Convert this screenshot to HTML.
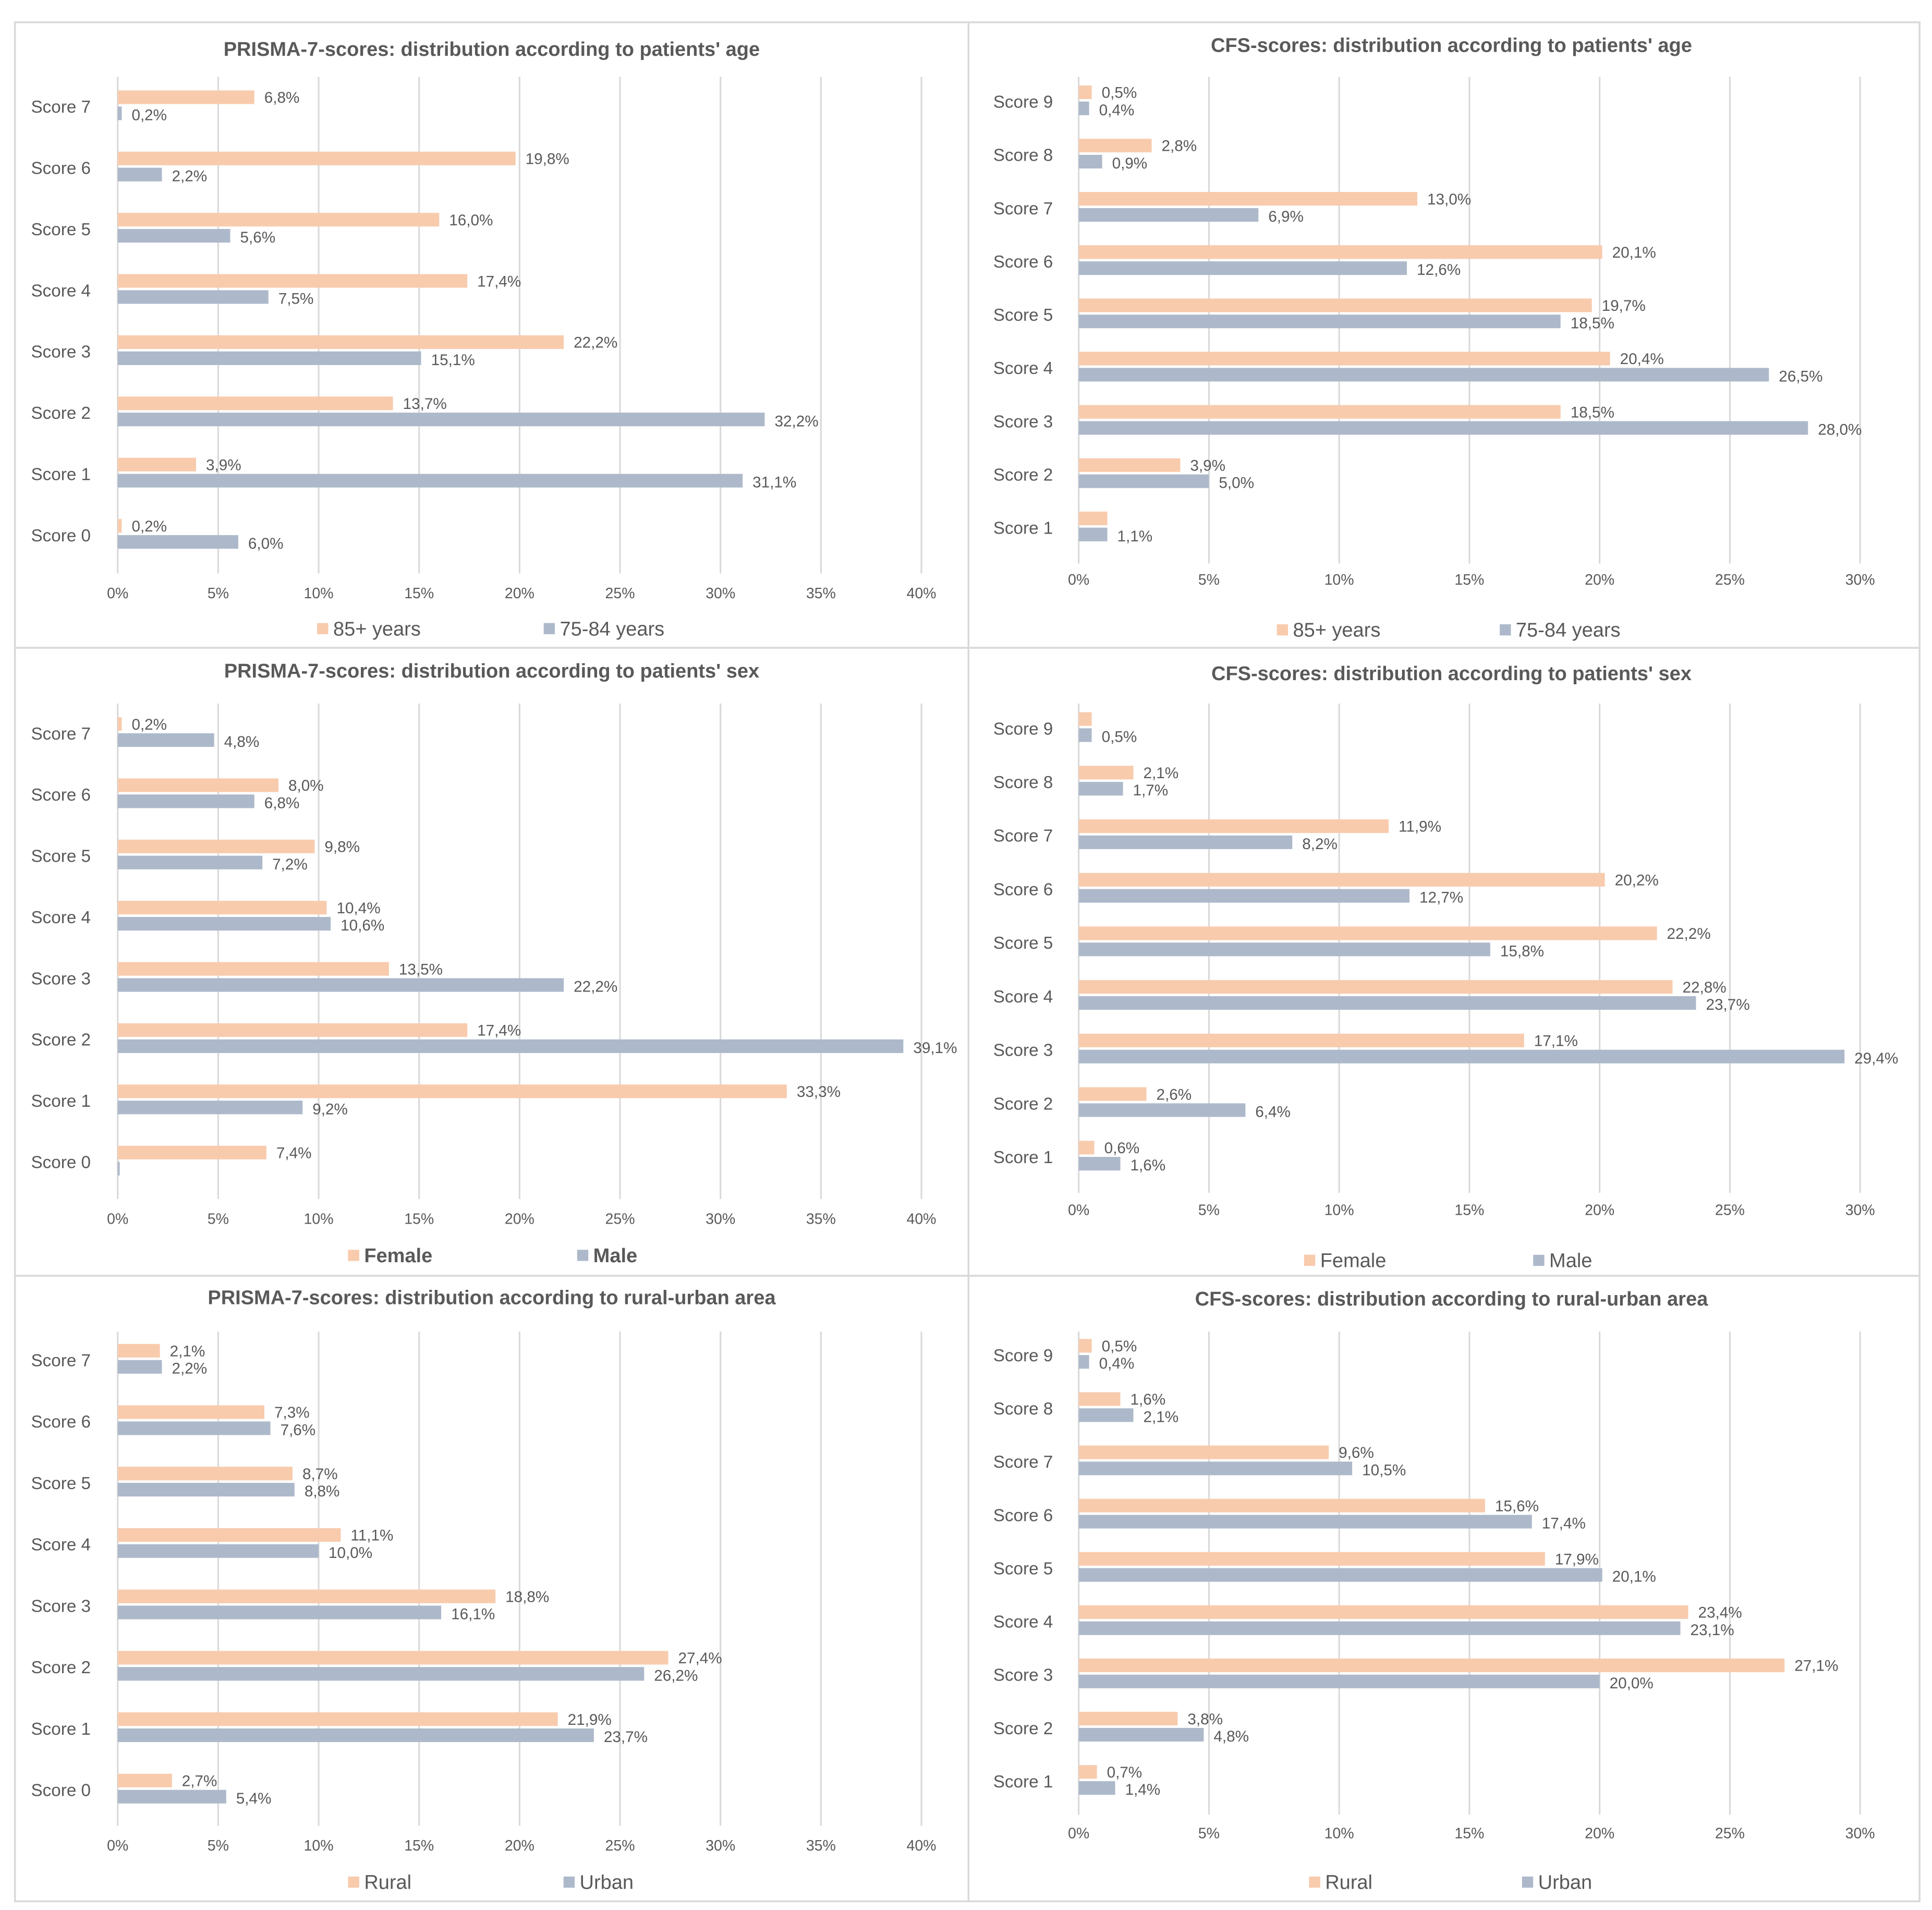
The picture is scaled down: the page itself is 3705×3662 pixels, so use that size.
<!DOCTYPE html>
<html><head><meta charset="utf-8"><style>
html,body{margin:0;padding:0;background:#fff}
svg{display:block}
text{font-family:"Liberation Sans",sans-serif;fill:#595959}
</style></head><body>
<svg id="chart" width="3705" height="3662" viewBox="0 0 1560 1542" xmlns="http://www.w3.org/2000/svg">
<rect x="0" y="0" width="1560" height="1542" fill="#fff"/>
<rect x="12" y="18" width="1538" height="1517" fill="none" stroke="#d9d9d9" stroke-width="1.5"/>
<line x1="782" y1="18" x2="782" y2="1535" stroke="#d9d9d9" stroke-width="1.5"/>
<line x1="12" y1="523" x2="1550" y2="523" stroke="#d9d9d9" stroke-width="1.5"/>
<line x1="12" y1="1030" x2="1550" y2="1030" stroke="#d9d9d9" stroke-width="1.5"/>
</svg>
<script>
const prismaCats = ["Score 7","Score 6","Score 5","Score 4","Score 3","Score 2","Score 1","Score 0"];
const cfsCats = ["Score 9","Score 8","Score 7","Score 6","Score 5","Score 4","Score 3","Score 2","Score 1"];
const prismaTicks = [0,5,10,15,20,25,30,35,40];
const cfsTicks = [0,5,10,15,20,25,30];

const ageOld_P = [6.8,19.8,16.0,17.4,22.2,13.7,3.9,0.2];
const ageYoung_P = [0.2,2.2,5.6,7.5,15.1,32.2,31.1,6.0];
const ageOld_C = [0.5,2.8,13.0,20.1,19.7,20.4,18.5,3.9,1.1];
const ageYoung_C = [0.4,0.9,6.9,12.6,18.5,26.5,28.0,5.0,1.1];
const female_P = [0.2,8.0,9.8,10.4,13.5,17.4,33.3,7.4];
const male_P = [4.8,6.8,7.2,10.6,22.2,39.1,9.2,0.1];
const female_C = [0.5,2.1,11.9,20.2,22.2,22.8,17.1,2.6,0.6];
const male_C = [0.5,1.7,8.2,12.7,15.8,23.7,29.4,6.4,1.6];
const rural_P = [2.1,7.3,8.7,11.1,18.8,27.4,21.9,2.7];
const urban_P = [2.2,7.6,8.8,10.0,16.1,26.2,23.7,5.4];
const rural_C = [0.5,1.6,9.6,15.6,17.9,23.4,27.1,3.8,0.7];
const urban_C = [0.4,2.1,10.5,17.4,20.1,23.1,20.0,4.8,1.4];

const NS="http://www.w3.org/2000/svg";
const svg=document.getElementById('chart');
function mk(tag,attrs,parent,txt){const e=document.createElementNS(NS,tag);for(const k in attrs)e.setAttribute(k,attrs[k]);if(txt!==undefined)e.textContent=txt;(parent||svg).appendChild(e);return e;}
function fmt(v){return v.toFixed(1).replace('.',',')+'%';}

function panel(cfg){
  const g=mk('g',{});
  
  
  const x=v=>cfg.x0+(cfg.x1-cfg.x0)*v/cfg.max;
  const y=i=>cfg.yTop+(cfg.yBot-cfg.yTop)*i/(cfg.cats.length-1);
  const t=mk('text',{x:cfg.cx,y:cfg.titleY,'text-anchor':'middle','font-size':16,'font-weight':'bold'},g,cfg.title);
  
  
  cfg.ticks.forEach(tv=>{
    const l=mk('line',{x1:x(tv),x2:x(tv),y1:cfg.gTop,y2:cfg.gBot,stroke:'#d9d9d9','stroke-width':1.3},g);
    
    
    const tl=mk('text',{x:x(tv),y:cfg.tickY,'text-anchor':'middle','font-size':12},g,tv+'%');
    
    
  });
  cfg.cats.forEach((c,i)=>{
    const cy=y(i);
    const cl=mk('text',{x:cfg.labX,y:cy+5,'font-size':14},g,c);
    
    
    const a=cfg.a[i],b=cfg.b[i];
    const ra=mk('rect',{x:x(0),y:cy-13,width:Math.max(1,x(a)-x(0)),height:11,fill:'#f8cbad'},g);
    
    
    const rb=mk('rect',{x:x(0),y:cy,width:Math.max(1,x(b)-x(0)),height:11,fill:'#adb9ca'},g);
    
    
    if(!(cfg.skipA||[]).includes(i)){
      const la=mk('text',{x:x(a)+8,y:cy-3,'font-size':12.5},g,fmt(a));
      
      
    }
    if(!(cfg.skipB||[]).includes(i)){
      const lb=mk('text',{x:x(b)+8,y:cy+11,'font-size':12.5},g,fmt(b));
      
      
    }
  });
  const fw=cfg.boldLegend?'bold':'normal';
  const lg=mk('g',{},g);
  
  
  mk('rect',{x:cfg.leg1,y:cfg.legY-10,width:9,height:9,fill:'#f8cbad'},lg);
  const l1=mk('text',{x:cfg.leg1+13,y:cfg.legY,'font-size':16,'font-weight':fw},lg,cfg.aName);
  
  
  mk('rect',{x:cfg.leg2,y:cfg.legY-10,width:9,height:9,fill:'#adb9ca'},lg);
  const l2=mk('text',{x:cfg.leg2+13,y:cfg.legY,'font-size':16,'font-weight':fw},lg,cfg.bName);
  
  
}
const L={x0:95,x1:744,max:40,ticks:prismaTicks,cats:prismaCats,labX:25,cx:397};
const R={x0:871,x1:1502,max:30,ticks:cfsTicks,cats:cfsCats,labX:802,cx:1172};
panel(Object.assign({},L,{name:'prisma-age-chart',title:"PRISMA-7-scores: distribution according to patients' age",titleY:45,yTop:86,yBot:432,gTop:62,gBot:463,tickY:483,a:ageOld_P,b:ageYoung_P,aKey:'85plus',bKey:'75-84',aName:'85+ years',bName:'75-84 years',legY:513,leg1:256,leg2:439}));
panel(Object.assign({},R,{name:'cfs-age-chart',title:"CFS-scores: distribution according to patients' age",titleY:42,yTop:82,yBot:426,gTop:62,gBot:455,tickY:472,a:ageOld_C,b:ageYoung_C,aKey:'85plus',bKey:'75-84',aName:'85+ years',bName:'75-84 years',legY:514,leg1:1031,leg2:1211,skipA:[8]}));
panel(Object.assign({},L,{name:'prisma-sex-chart',title:"PRISMA-7-scores: distribution according to patients' sex",titleY:547,yTop:592,yBot:938,gTop:568,gBot:968,tickY:988,a:female_P,b:male_P,aKey:'female',bKey:'male',aName:'Female',bName:'Male',legY:1019,leg1:281,leg2:466,boldLegend:true,skipB:[7]}));
panel(Object.assign({},R,{name:'cfs-sex-chart',title:"CFS-scores: distribution according to patients' sex",titleY:549,yTop:588,yBot:934,gTop:568,gBot:963,tickY:981,a:female_C,b:male_C,aKey:'female',bKey:'male',aName:'Female',bName:'Male',legY:1023,leg1:1053,leg2:1238,skipA:[0]}));
panel(Object.assign({},L,{name:'prisma-area-chart',title:"PRISMA-7-scores: distribution according to rural-urban area",titleY:1053,yTop:1098,yBot:1445,gTop:1075,gBot:1474,tickY:1494,a:rural_P,b:urban_P,aKey:'rural',bKey:'urban',aName:'Rural',bName:'Urban',legY:1525,leg1:281,leg2:455}));
panel(Object.assign({},R,{name:'cfs-area-chart',title:"CFS-scores: distribution according to rural-urban area",titleY:1054,yTop:1094,yBot:1438,gTop:1075,gBot:1465,tickY:1484,a:rural_C,b:urban_C,aKey:'rural',bKey:'urban',aName:'Rural',bName:'Urban',legY:1525,leg1:1057,leg2:1229}));
</script>
</body></html>
